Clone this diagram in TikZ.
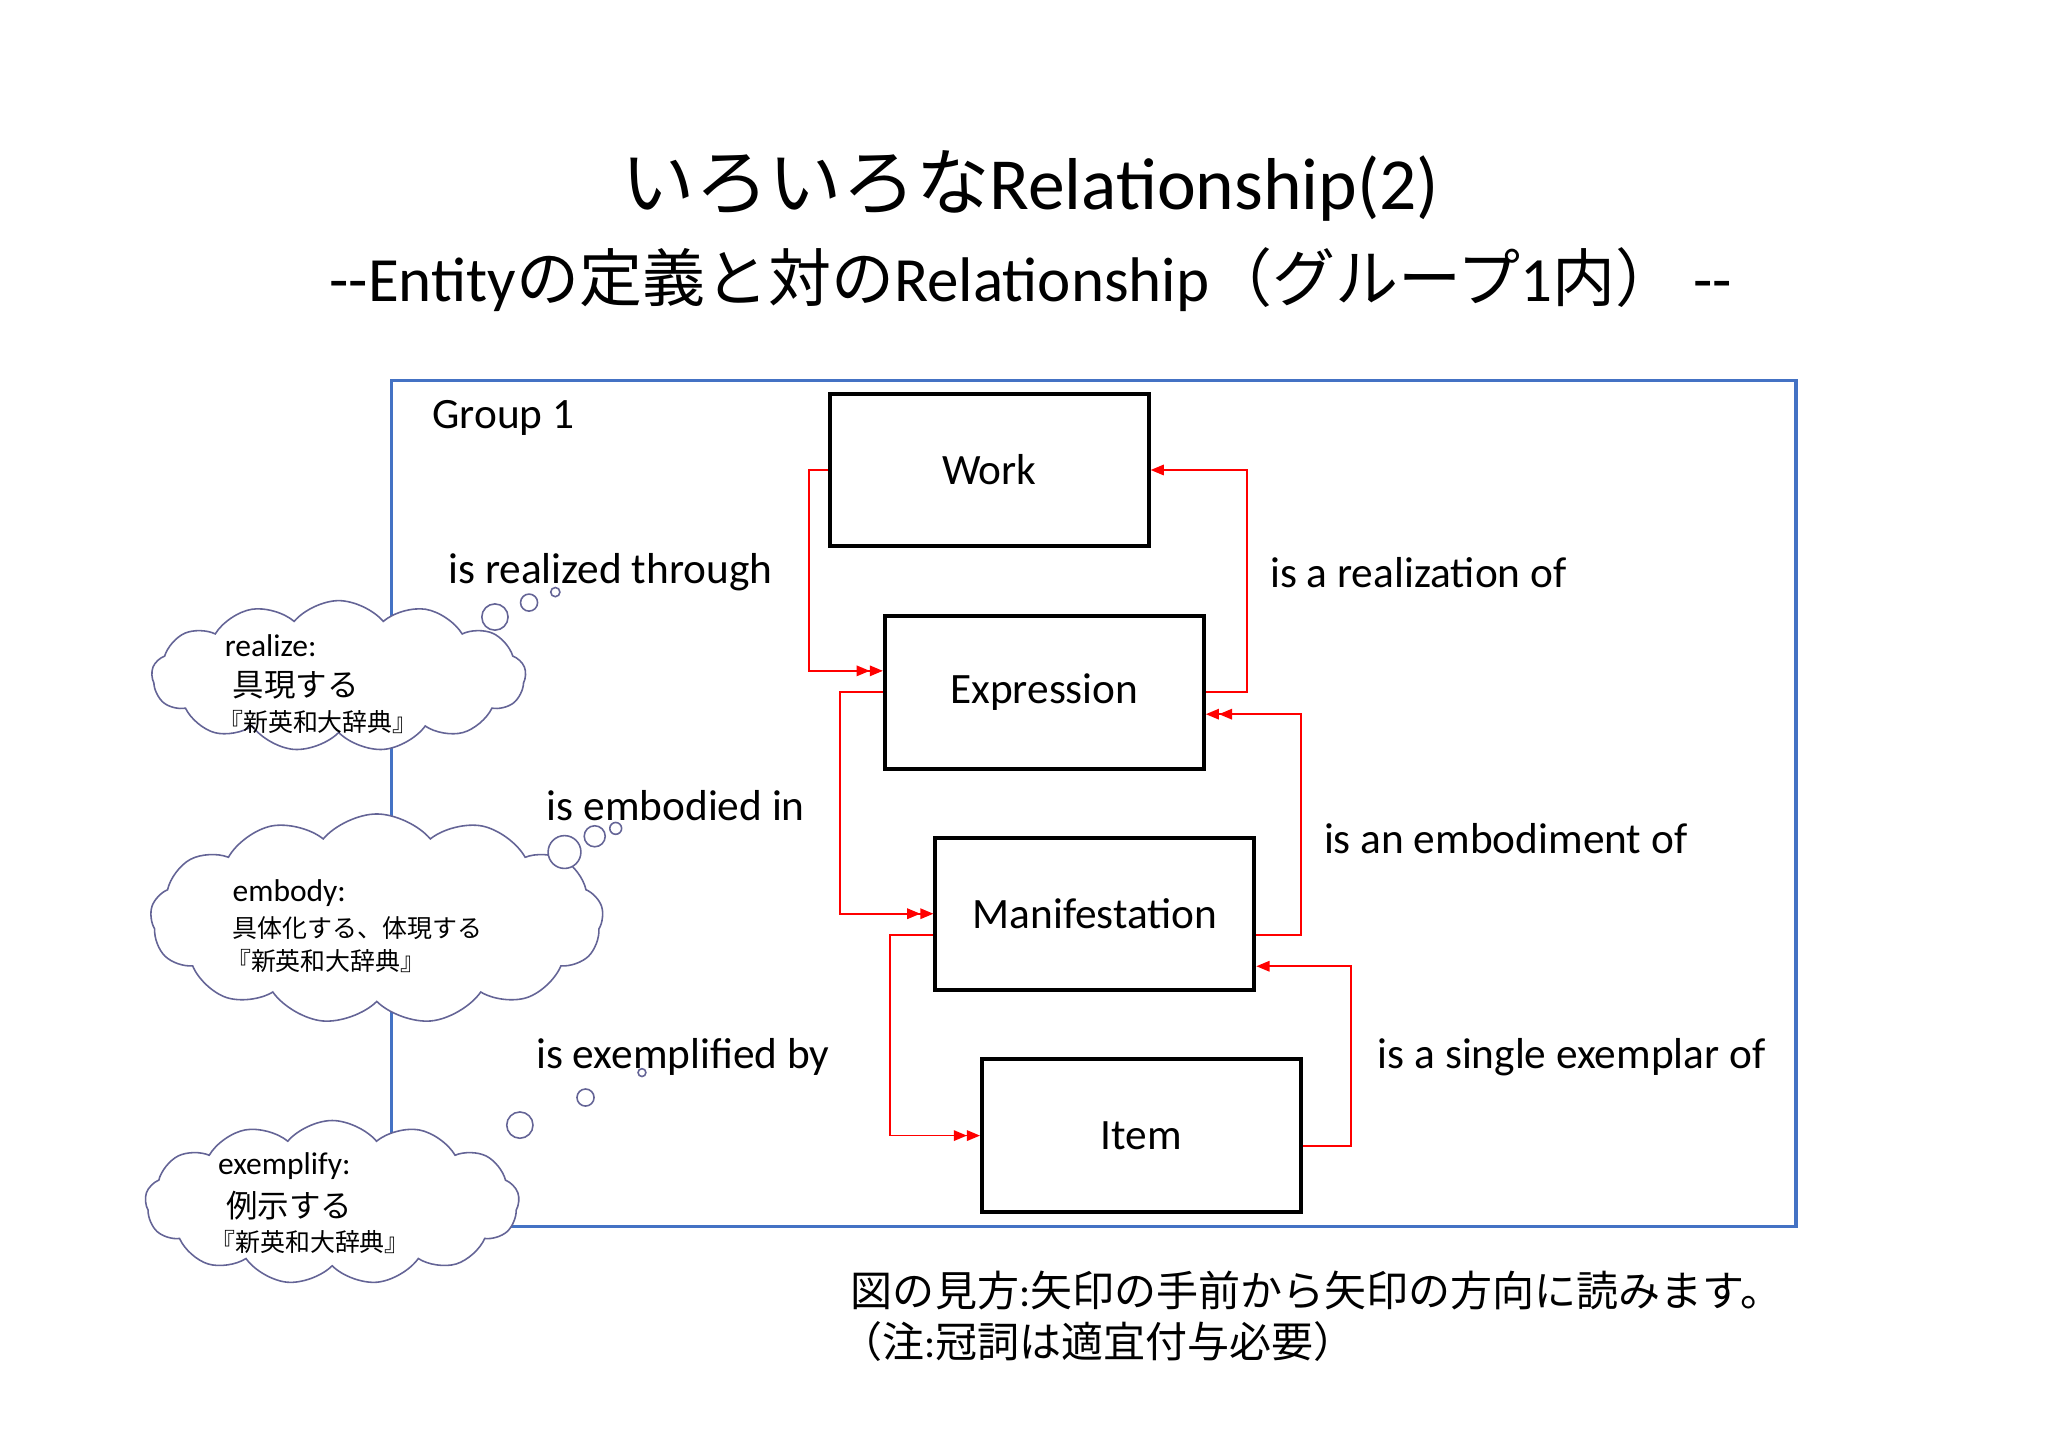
\documentclass[tikz,border=0pt]{standalone}
\usepackage{fontspec}
\setmainfont{Carlito}
\newfontfamily\jp{Noto Sans CJK JP}
\usetikzlibrary{arrows.meta,shapes.symbols}
\definecolor{frameblue}{RGB}{68,114,196}
\definecolor{cloudline}{RGB}{100,100,150}
\newcommand{\fs}[1]{\fontsize{#1}{#1}\selectfont}
\tikzset{
 ent/.style={draw=black,line width=3pt,minimum width=243pt,minimum height=116pt,font=\fs{33}},
 rel/.style={draw=red,line width=1.3pt},
 one/.style={-{Triangle[length=10pt,width=8pt]}},
 two/.style={-{Triangle[length=10pt,width=8pt]Triangle[length=10pt,width=8pt]}},
 lbl/.style={anchor=west,font=\fs{33}},
 cld/.style={cloud,cloud puffs=13,cloud puff arc=100,draw=cloudline,line width=1.2pt,fill=white},
 bub/.style={circle,draw=cloudline,line width=1.2pt,fill=white,inner sep=0pt},
 ctext/.style={anchor=west,inner sep=0pt}
}
\begin{document}
\begin{tikzpicture}[x=1pt,y=-1pt]
\useasboundingbox[fill=white] (0,0) rectangle (1560,1103);
\node (t1) at (785,142) {\fs{56}\jp いろいろな\rmfamily Relationship(2)};
\node (t2) at (785,213) {\fs{48}-{}-Entity{\jp の定義と対の}Relationship{\jp （グループ}1{\jp 内）} -{}-};
\draw[frameblue,line width=2.5pt] (298,290) rectangle (1368,934);
\node[lbl] (g1) at (326,318) {Group 1};
\node[ent] (w) at (753.5,358) {Work};
\node[ent] (e) at (795.5,527.5) {Expression};
\node[ent] (m) at (834,696) {Manifestation};
\node[ent] (i) at (869.5,865) {Item};
\draw[rel,two] (w.west|-0,358) -- (616,358) -- (616,511) -- (e.west|-0,511);
\draw[rel,one] (e.east|-0,527) -- (950,527) -- (950,358) -- (w.east|-0,358);
\draw[rel,two] (e.west|-0,527) -- (640,527) -- (640,696) -- (m.west|-0,696);
\draw[rel,two] (m.east|-0,712) -- (991,712) -- (991,544) -- (e.east|-0,544);
\draw[rel,two] (m.west|-0,712) -- (678,712) -- (678,865) -- (i.west|-0,865);
\draw[rel,one] (i.east|-0,873) -- (1029,873) -- (1029,736) -- (m.east|-0,736);
\node[lbl] (l1) at (338,436) {is realized through};
\node[lbl] (l2) at (964,436) {is a realization of};
\node[lbl] (l3) at (413,614) {is embodied in};
\node[lbl] (l4) at (1005,639) {is an embodiment of};
\node[lbl] (l5) at (405,805) {is exemplified by};
\node[lbl] (l6) at (1046,805) {is a single exemplar of};
% cloud 1
\node[cld,minimum width=285pt,minimum height=115pt] (c1) at (258,515) {};
\node[bub,minimum size=20pt] (b11) at (377,470) {};
\node[bub,minimum size=13pt] (b12) at (403,459) {};
\node[bub,minimum size=7pt] (b13) at (423,451) {};
\node[ctext,font=\fs{24}] (c1a) at (171,492) {realize:};
\node[ctext,font=\fs{24}\jp] (c1b) at (177,522) {具現する};
\node[ctext,font=\fs{19}\jp] (c1c) at (166,550) {『新英和大辞典』};
% cloud 2
\node[cld,minimum width=345pt,minimum height=160pt] (c2) at (287,700) {};
\node[bub,minimum size=25pt] (b21) at (430,649) {};
\node[bub,minimum size=16pt] (b22) at (453,637) {};
\node[bub,minimum size=9pt] (b23) at (469,631) {};
\node[ctext,font=\fs{24}] (c2a) at (177,680) {embody:};
\node[ctext,font=\fs{19}\jp] (c2b) at (177,707) {具体化する、体現する};
\node[ctext,font=\fs{19}\jp] (c2c) at (172,732) {『新英和大辞典』};
% cloud 3
\node[cld,minimum width=285pt,minimum height=125pt] (c3) at (253,916) {};
\node[bub,minimum size=20pt] (b31) at (396,857) {};
\node[bub,minimum size=13pt] (b32) at (446,836) {};
\node[bub,minimum size=6pt] (b33) at (489,817) {};
\node[ctext,font=\fs{24}] (c3a) at (166,888) {exemplify:};
\node[ctext,font=\fs{24}\jp] (c3b) at (172,918) {例示する};
\node[ctext,font=\fs{19}\jp] (c3c) at (160,946) {『新英和大辞典』};
% note
\node[ctext,font=\fs{32}\jp] (n1) at (648,983) {図の見方{\rmfamily :}矢印の手前から矢印の方向に読みます。};
\node[ctext,font=\fs{32}\jp] (n2) at (640,1022) {（注{\rmfamily :}冠詞は適宜付与必要）};
\end{tikzpicture}
\end{document}
